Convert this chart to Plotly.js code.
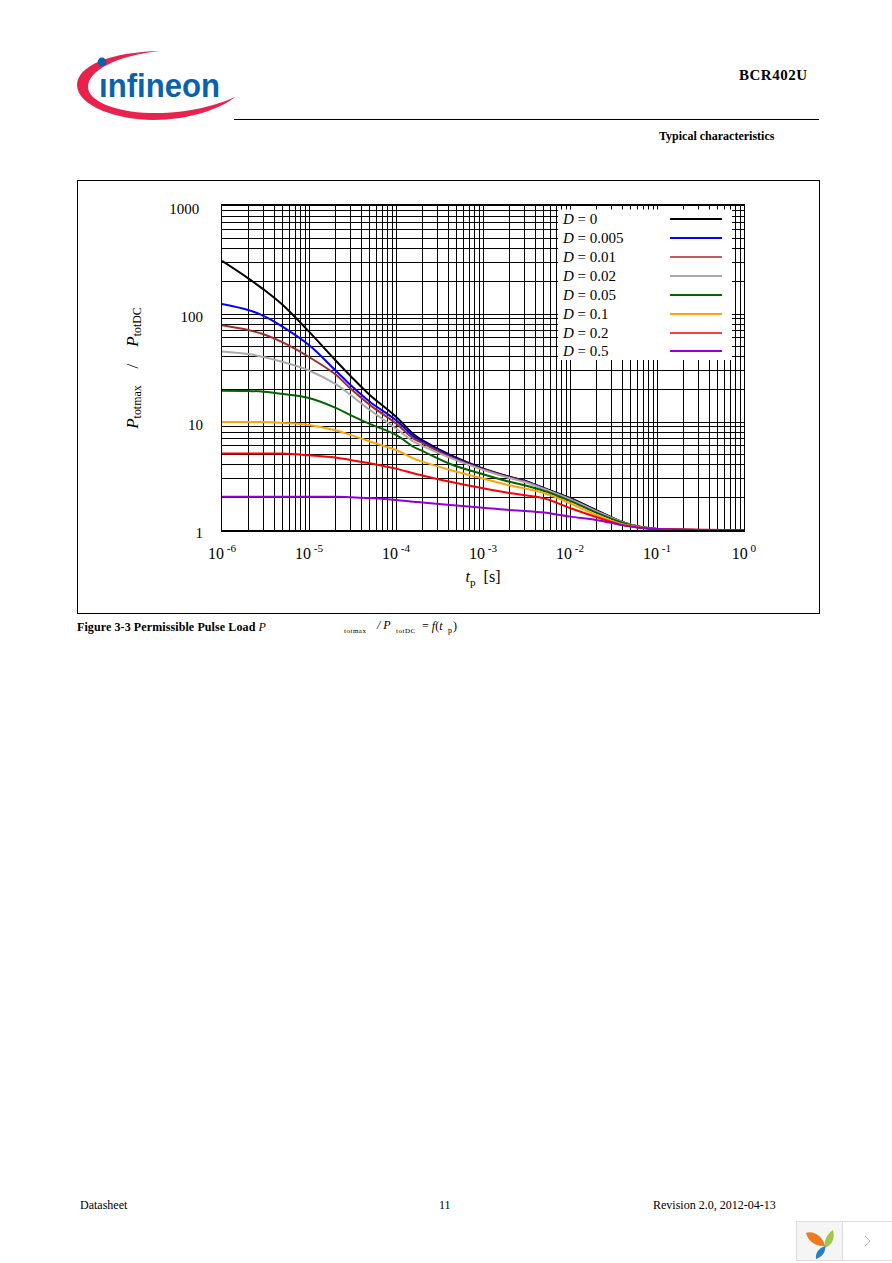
<!DOCTYPE html>
<html>
<head>
<meta charset="utf-8">
<script src="https://cdn.plot.ly/plotly-3.0.1.min.js"></script>
<style>
html, body { margin: 0; padding: 0; background: #fff; }
#page { position: relative; width: 892px; height: 1263px; overflow: hidden; font-family: "Liberation Serif", serif; font-size: 12px; color: #000; }
#page div.t { position: absolute; white-space: nowrap; line-height: 14px; }
#frame { position: absolute; left: 77px; top: 179.5px; width: 743px; height: 434px; border: 1px solid #000; box-sizing: border-box; }
#rule { position: absolute; left: 234px; top: 119px; width: 585px; height: 1px; background: #000; }
#chart { position: absolute; left: 0; top: 0; width: 892px; height: 1263px; }
svg.deco { position: absolute; left: 0; top: 0; }
</style>
</head>
<body>
<div id="page">
    <div id="frame"></div>
    <div id="rule"></div>
    <svg class="deco" width="892" height="1263">
        <path d="M160 51 C110 52 77 66 77 85 C77 106 118 120 153 120 C190 120 222 108 235 97 C215 106 185 114 150 113 C115 112 88 101 88 87 C88 71 115 56 160 51 Z" fill="#e8214d"/>
        <circle cx="102" cy="62" r="4.4" fill="#0b62ac"/>
        <text x="99" y="97" font-family="Liberation Sans Narrow, Liberation Sans" font-size="34" font-weight="bold" fill="#0b62ac" textLength="121" lengthAdjust="spacingAndGlyphs">ınfineon</text>
        <rect x="796.5" y="1221.5" width="46" height="39" fill="#f5f5f5" stroke="#ddd"/>
        <rect x="842.5" y="1221.5" width="50" height="39" fill="#fff" stroke="#ddd"/>
        <path d="M806 1233 C813 1230 823 1236 825 1246 C816 1247 808 1241 806 1233 Z" fill="#ee7a22"/>
        <path d="M833 1230 C835 1238 833 1244 825 1248 C824 1240 827 1234 833 1230 Z" fill="#a3c34a"/>
        <path d="M825 1246 C826 1252 822 1257 816 1259 C815 1253 819 1248 825 1246 Z" fill="#2a7fc4"/>
        <path d="M865 1236 L870 1241 L865 1246" fill="none" stroke="#bbb" stroke-width="1"/>
    </svg>
    <div id="chart"></div>
    <div class="t" style="left:739px;top:68px;font-weight:bold;font-size:15px;letter-spacing:0.5px;">BCR402U</div>
    <div class="t" style="left:659px;top:129px;font-weight:bold;">Typical characteristics</div>
    <div class="t" style="left:77px;top:620px;font-weight:bold;letter-spacing:0.1px;">Figure 3-3 Permissible Pulse Load <i style="font-weight:normal">P</i></div>
    <div class="t" style="left:344px;top:624px;font-size:7px;letter-spacing:0.5px;">totmax</div>
    <div class="t" style="left:377px;top:618px;"><i>/ P</i></div>
    <div class="t" style="left:396px;top:624px;font-size:7px;letter-spacing:0.5px;">totDC</div>
    <div class="t" style="left:422px;top:619px;">= <i>f</i>(<i>t</i></div>
    <div class="t" style="left:448px;top:624px;font-size:8px;">p</div>
    <div class="t" style="left:453px;top:619px;">)</div>
    <div class="t" style="left:80px;top:1198px;">Datasheet</div>
    <div class="t" style="left:439px;top:1198px;">11</div>
    <div class="t" style="left:653px;top:1198px;">Revision 2.0, 2012-04-13</div>
</div>
<script>
const tp = [1e-6, 2e-6, 3e-6, 5e-6, 1e-5, 2e-5, 3e-5, 5e-5, 1e-4, 1.58e-4, 2e-4, 4.2e-4, 1e-3, 2e-3, 3e-3, 5e-3, 1e-2, 2e-2, 4e-2, 6.3e-2, 1e-1, 1];

const d0 = [310, 214, 169, 121, 68.6, 37.5, 26.7, 17.8, 11.2, 7.75, 6.8, 4.95, 3.72, 3.12, 2.86, 2.45, 1.98, 1.53, 1.19, 1.07, 1.02, 1];
const d0005 = [124, 109, 96, 76, 51.6, 30.2, 22, 15.4, 10.4, 7.4, 6.6, 4.85, 3.68, 3.1, 2.84, 2.43, 1.96, 1.52, 1.18, 1.07, 1.02, 1];
const d001 = [78.6, 71, 65, 54.6, 40, 27.7, 20.4, 14.4, 9.7, 7.05, 6.4, 4.75, 3.65, 3.07, 2.82, 2.42, 1.94, 1.5, 1.18, 1.07, 1.02, 1];
const d002 = [45, 42.6, 40, 36, 30, 22.5, 17.8, 12.9, 8.7, 6.6, 6, 4.65, 3.6, 3.03, 2.78, 2.4, 1.92, 1.49, 1.18, 1.07, 1.02, 1];
const d005 = [19.5, 19.4, 19.1, 18.2, 16.7, 13.6, 11.6, 9.6, 7.6, 5.9, 5.4, 4.08, 3.28, 2.8, 2.6, 2.31, 1.86, 1.45, 1.17, 1.065, 1.02, 1];
const d01 = [10, 10, 10, 9.8, 9.4, 8.4, 7.6, 6.6, 5.5, 4.6, 4.3, 3.6, 3, 2.6, 2.43, 2.2, 1.77, 1.38, 1.13, 1.06, 1.02, 1];
const d02 = [5.1, 5.1, 5.1, 5.1, 4.92, 4.7, 4.45, 4.15, 3.7, 3.35, 3.2, 2.8, 2.43, 2.2, 2.1, 1.97, 1.6, 1.32, 1.11, 1.05, 1.02, 1];
const d05 = [2.03, 2.03, 2.03, 2.03, 2.03, 2.03, 2.01, 1.98, 1.9, 1.83, 1.8, 1.7, 1.61, 1.53, 1.5, 1.45, 1.33, 1.24, 1.11, 1.05, 1.02, 1];

const seriesValues = [d0, d0005, d001, d002, d005, d01, d02, d05];
const dutyLabels = ['0', '0.005', '0.01', '0.02', '0.05', '0.1', '0.2', '0.5'];
const seriesColors = ['#000000', '#0000ff', '#a52a2a', '#a9a9a9', '#006400', '#ffa500', '#ff0000', '#9400d3'];
const legendWidths = [2, 2, 1.5, 2, 2, 2, 1.5, 2];
const xTickVals = [1e-6, 1e-5, 1e-4, 1e-3, 1e-2, 1e-1, 1];
const xTickText = ['-6', '-5', '-4', '-3', '-2', '-1', '0'];
const yTickVals = [1, 10, 100, 1000];
const yTickText = ['1', '10', '100', '1000&#160;'];

// page px to paper coordinates of the plot area
const plotL = 222, plotR = 744, plotT = 206, plotB = 530;
const px = v => (v - plotL) / (plotR - plotL);
const py = v => (plotB - v) / (plotB - plotT);

const traces = seriesValues.map((vals, i) => ({
    x: tp,
    y: vals,
    type: 'scatter',
    mode: 'lines',
    name: 'D = ' + dutyLabels[i],
    line: {color: seriesColors[i], width: 2, shape: 'spline', smoothing: 1},
    showlegend: false
}));

const legendRows = [219, 238, 257, 276, 295, 314, 333, 351];
const shapes = [{
    type: 'rect', xref: 'paper', yref: 'paper',
    x0: px(558), x1: px(732), y0: py(209.5), y1: py(360),
    fillcolor: '#fff', line: {width: 0}, layer: 'above'
}];
const annotations = [];
dutyLabels.forEach((label, i) => {
    shapes.push({
        type: 'line', xref: 'paper', yref: 'paper',
        x0: px(670), x1: px(722), y0: py(legendRows[i]), y1: py(legendRows[i]),
        line: {color: seriesColors[i], width: legendWidths[i]}, layer: 'above'
    });
    annotations.push({
        xref: 'paper', yref: 'paper', x: px(560), y: py(legendRows[i]),
        xanchor: 'left', yanchor: 'middle', showarrow: false,
        text: '<i>D</i> = ' + label,
        font: {family: 'Liberation Serif', size: 15, color: '#000'}
    });
});

const layout = {
    width: 892,
    height: 1263,
    margin: {l: plotL, r: 892 - plotR, t: plotT, b: 1263 - plotB, pad: 0},
    paper_bgcolor: 'rgba(0,0,0,0)',
    plot_bgcolor: 'rgba(0,0,0,0)',
    font: {family: 'Liberation Serif', size: 14, color: '#000'},
    showlegend: false,
    xaxis: {
        type: 'log',
        range: [-6, 0],
        tickmode: 'array',
        tickvals: xTickVals,
        ticktext: xTickText.map(t => '10<sup> ' + t + '</sup>'),
        ticks: '',
        tickfont: {size: 16},
        ticklabelstandoff: 8,
        showgrid: true,
        gridcolor: '#000',
        gridwidth: 1,
        minor: {dtick: 'D1', showgrid: true, gridcolor: '#000', gridwidth: 1, ticks: ''},
        showline: true,
        linecolor: '#000',
        linewidth: 2,
        mirror: true,
        zeroline: false,
        title: {text: '<i>t</i><sub>p</sub>  [s]', font: {size: 16}, standoff: 10}
    },
    yaxis: {
        type: 'log',
        range: [0, 3],
        tickmode: 'array',
        tickvals: yTickVals,
        ticktext: yTickText,
        ticks: '',
        tickfont: {size: 15},
        ticklabelstandoff: 15,
        ticklabelshift: 3,
        showgrid: true,
        gridcolor: '#000',
        gridwidth: 1,
        minor: {dtick: 'D1', showgrid: true, gridcolor: '#000', gridwidth: 1, ticks: ''},
        showline: true,
        linecolor: '#000',
        linewidth: 1,
        mirror: true,
        zeroline: false,
        title: {text: '<i>P</i><sub>totmax</sub>    /    <i>P</i><sub>totDC</sub>', font: {size: 17}, standoff: 26}
    },
    shapes: shapes,
    annotations: annotations
};

Plotly.newPlot('chart', traces, layout, {displayModeBar: false, responsive: false});
</script>
</body>
</html>
